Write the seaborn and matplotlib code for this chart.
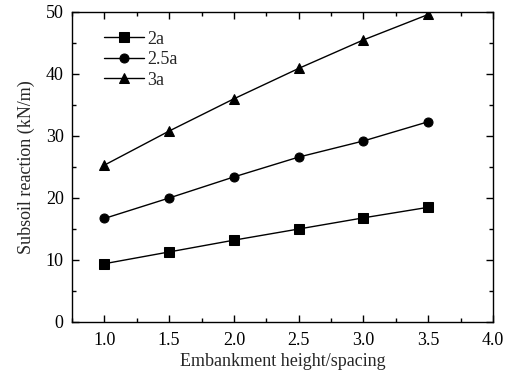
import numpy as np
import pandas as pd
import matplotlib
matplotlib.use("Agg")
import matplotlib.pyplot as plt
import seaborn as sns
from matplotlib.ticker import MultipleLocator

x_vals = [1.0, 1.5, 2.0, 2.5, 3.0, 3.5]
series_names = ["2a", "2.5a", "3a"]
y_2a = [9.4, 11.3, 13.2, 15.0, 16.8, 18.5]
y_25a = [16.7, 20.0, 23.4, 26.6, 29.2, 32.3]
y_3a = [25.3, 30.8, 36.0, 40.9, 45.5, 49.6]

df = pd.DataFrame({
    "x": x_vals * 3,
    "y": y_2a + y_25a + y_3a,
    "series": [s for s in series_names for _ in x_vals],
})

sns.set_theme(style="ticks")
plt.rcParams["font.family"] = ["Liberation Serif", "DejaVu Serif"]

fig = plt.figure(figsize=(5.1, 3.75), dpi=100)
ax = fig.add_axes([72/510, 53/375, (493-72)/510, (322-12)/375])

sns.lineplot(data=df, x="x", y="y", hue="series", style="series",
             markers={"2a": "s", "2.5a": "o", "3a": "^"}, dashes=False,
             palette={"2a": "black", "2.5a": "black", "3a": "black"},
             markersize=6.5, linewidth=1, markeredgecolor="black", ax=ax)

ax.set_xlim(0.75, 4.0)
ax.set_ylim(0, 50)
ax.xaxis.set_major_locator(MultipleLocator(0.5))
ax.xaxis.set_minor_locator(MultipleLocator(0.25))
ax.yaxis.set_major_locator(MultipleLocator(10))
ax.yaxis.set_minor_locator(MultipleLocator(5))
ax.xaxis.set_major_formatter(matplotlib.ticker.FormatStrFormatter("%.1f"))
ax.tick_params(which="both", direction="in", top=True, right=True, labelsize=13, color="black", labelcolor="black")
ax.tick_params(which="major", length=5, width=1)
ax.tick_params(which="minor", length=3, width=1)
ax.tick_params(axis="x", which="major", pad=7)
ax.tick_params(axis="y", which="major", pad=6)
for sp in ax.spines.values():
    sp.set_linewidth(1)
    sp.set_color("black")
    sp.set_visible(True)

ax.set_xlabel("Embankment height/spacing", fontsize=13, labelpad=3)
ax.set_ylabel("Subsoil reaction (kN/m)", fontsize=13, labelpad=8)

leg = ax.legend(title=None, loc="upper left", frameon=False, fontsize=13,
                bbox_to_anchor=(0.05, 0.975), handlelength=2.2, labelspacing=0.2,
                handletextpad=0.2, borderaxespad=0.2)

fig.savefig("out.png", dpi=100)
